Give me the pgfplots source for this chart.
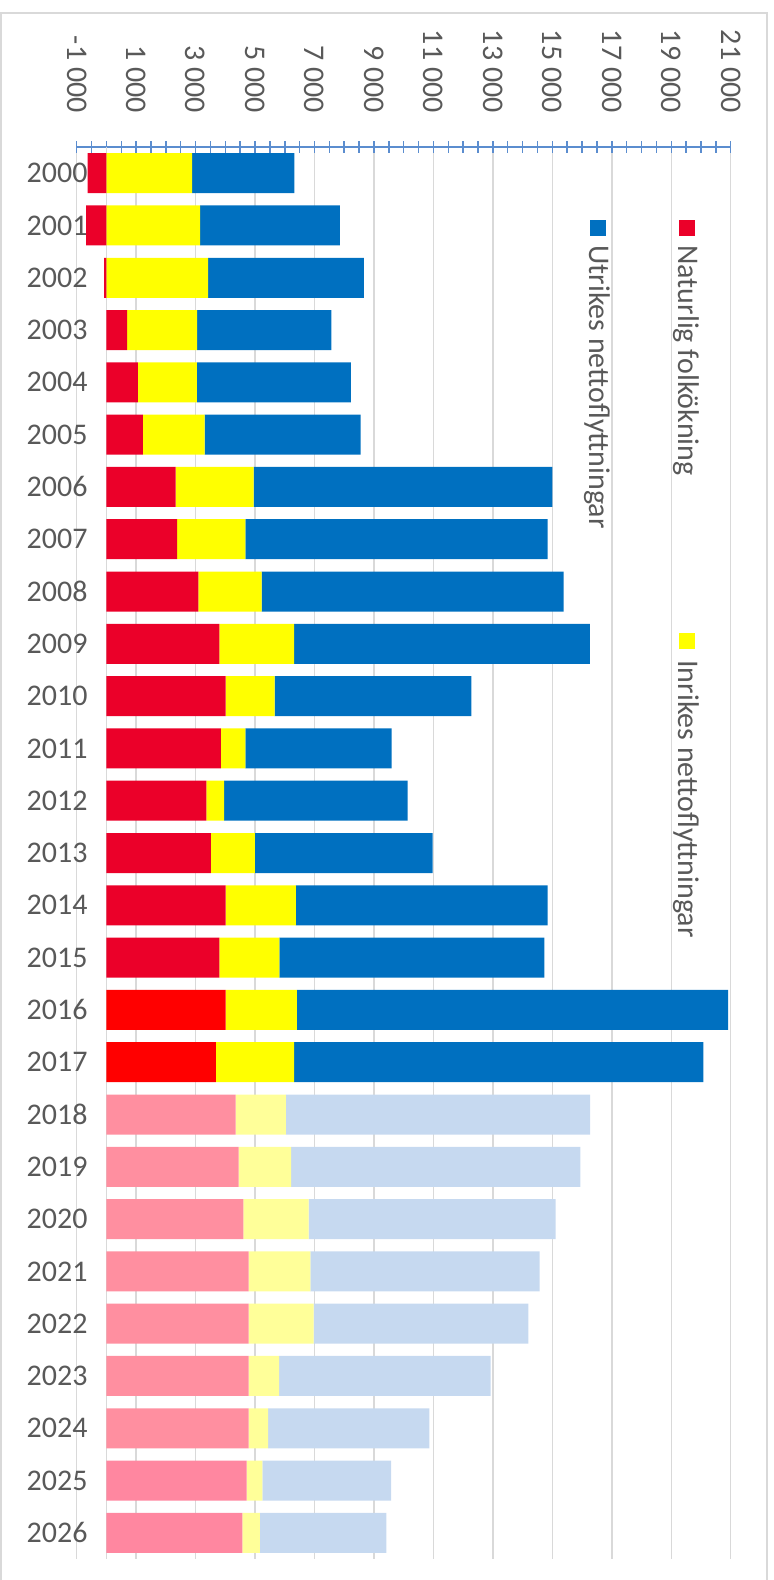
\documentclass[border=0pt]{standalone}
\usepackage{pgfplots}
\pgfplotsset{compat=1.18}
\usepackage{pgfplotstable}
\usepackage{fontspec}
\setmainfont{Carlito}
\definecolor{crim}{RGB}{235,0,41}
\definecolor{pureRed}{RGB}{255,0,0}
\definecolor{pinkA}{RGB}{255,143,160}
\definecolor{pinkB}{RGB}{255,135,160}
\definecolor{yel}{RGB}{255,255,0}
\definecolor{paleYel}{RGB}{255,255,153}
\definecolor{blu}{RGB}{0,112,192}
\definecolor{paleBlu}{RGB}{198,217,240}
\definecolor{axisblue}{RGB}{91,141,207}
\definecolor{gridgray}{RGB}{217,217,217}
\definecolor{txtgray}{RGB}{89,89,89}

% i = year index (0 = 2000); nA..nD natural increase split by colour group,
% iA/iB domestic net migration, uA/uB foreign net migration
\pgfplotstableread{
i  nA    nB    nC    nD    iA    iB    uA     uB
0  -630  0     0     0     2880  0     3440   0
1  -680  0     0     0     3150  0     4700   0
2  -80   0     0     0     3420  0     5240   0
3  700   0     0     0     2350  0     4520   0
4  1060  0     0     0     1980  0     5180   0
5  1230  0     0     0     2070  0     5250   0
6  2330  0     0     0     2620  0     10050  0
7  2380  0     0     0     2290  0     10170  0
8  3090  0     0     0     2130  0     10160  0
9  3800  0     0     0     2510  0     9950   0
10 4010  0     0     0     1650  0     6620   0
11 3850  0     0     0     820   0     4920   0
12 3360  0     0     0     600   0     6170   0
13 3510  0     0     0     1480  0     5980   0
14 4010  0     0     0     2360  0     8470   0
15 3800  0     0     0     2020  0     8910   0
16 0     4010  0     0     2400  0     14500  0
17 0     3680  0     0     2630  0     13770  0
18 0     0     4350  0     0     1690  0      10230
19 0     0     4450  0     0     1760  0      9730
20 0     0     4610  0     0     2190  0      8310
21 0     0     4780  0     0     2080  0      7710
22 0     0     4780  0     0     2190  0      7220
23 0     0     4780  0     0     1030  0      7110
24 0     0     4780  0     0     660   0      5420
25 0     0     0     4720  0     530   0      4330
26 0     0     0     4570  0     590   0      4260
}\data

\begin{document}
\begin{tikzpicture}[font=\fontsize{15pt}{18pt}\selectfont]
\useasboundingbox (0pt,0pt) rectangle (387pt,-790pt);
\draw[gridgray, line width=1pt] (0.5pt,-6.5pt) rectangle (383.5pt,-830pt);
\begin{axis}[
  at={(38.35pt,-73.5pt)}, anchor=north west,
  scale only axis, width=327pt, height=706pt,
  xbar stacked, bar width=0.765, bar shift=0pt,
  xmin=-1000, xmax=21000, ymin=-0.5, ymax=26.5,
  y dir=reverse,
  scaled x ticks=false,
  axis x line*=top,
  axis y line*=left,
  x axis line style={draw=axisblue, line width=0.8pt, -},
  y axis line style={draw=none},
  xtick={-1000,1000,3000,5000,7000,9000,11000,13000,15000,17000,19000,21000},
  xticklabels={-1 000,1 000,3 000,5 000,7 000,9 000,11 000,13 000,15 000,17 000,19 000,21 000},
  minor x tick num=3,
  tick align=center,
  major tick length=6pt, minor tick length=6pt,
  x tick style={draw=axisblue, line width=0.75pt},
  xmajorgrids,
  major grid style={draw=gridgray, line width=0.75pt},
  extra x ticks={0},
  extra x tick labels={},
  extra x tick style={major tick length=0pt, grid=major},
  ytick={0,...,26},
  yticklabels={2000,2001,2002,2003,2004,2005,2006,2007,2008,2009,2010,2011,2012,2013,2014,2015,2016,2017,2018,2019,2020,2021,2022,2023,2024,2025,2026},
  ytick style={draw=none},
  /pgf/number format/assume math mode=true,
  tick label style={font=\fontsize{15pt}{18pt}\selectfont, text=txtgray},
  xticklabel style={rotate=-90, anchor=east, inner sep=0pt},
  xticklabel shift=14pt,
  yticklabel style={anchor=east, inner sep=0pt, xshift=8.6pt},
]
\addplot[fill=crim, draw=none] table[x=nA, y=i] {\data};
\addplot[fill=pureRed, draw=none] table[x=nB, y=i] {\data};
\addplot[fill=pinkA, draw=none] table[x=nC, y=i] {\data};
\addplot[fill=pinkB, draw=none] table[x=nD, y=i] {\data};
\addplot[fill=yel, draw=none] table[x=iA, y=i] {\data};
\addplot[fill=paleYel, draw=none] table[x=iB, y=i] {\data};
\addplot[fill=blu, draw=none] table[x=uA, y=i] {\data};
\addplot[fill=paleBlu, draw=none] table[x=uB, y=i] {\data};
\end{axis}
% legend
\fill[crim] (339.7pt,-110.2pt) rectangle (347.7pt,-118.2pt);
\node[rotate=-90, anchor=base west, inner sep=0pt, text=txtgray] at (339.15pt,-122.5pt) {Naturlig folkökning};
\fill[blu] (295pt,-110.2pt) rectangle (303pt,-118.2pt);
\node[rotate=-90, anchor=base west, inner sep=0pt, text=txtgray] at (294.7pt,-122.5pt) {Utrikes nettoflyttningar};
\fill[yel] (339.7pt,-316.5pt) rectangle (347.7pt,-324.5pt);
\node[rotate=-90, anchor=base west, inner sep=0pt, text=txtgray] at (339.15pt,-330pt) {Inrikes nettoflyttningar};
\end{tikzpicture}
\end{document}
